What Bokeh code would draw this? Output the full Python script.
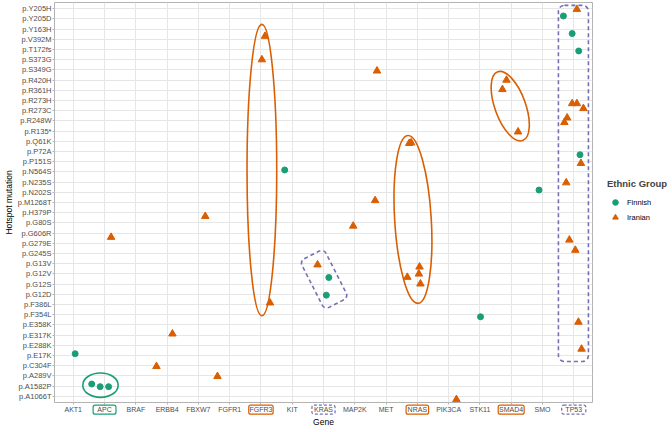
from bokeh.plotting import figure
from bokeh.models import Range1d, FixedTicker, Legend, LegendItem
from bokeh.embed import file_html
from bokeh.resources import INLINE

# ---------------- data ----------------
genes = ["AKT1", "APC", "BRAF", "ERBB4", "FBXW7", "FGFR1", "FGFR3", "KIT", "KRAS",
         "MAP2K", "MET", "NRAS", "PIK3CA", "STK11", "SMAD4", "SMO", "TP53"]

# bottom -> top
mutations = ["p.A1066T", "p.A1582P", "p.A289V", "p.C304F", "p.E17K", "p.E288K", "p.E317K",
             "p.E358K", "p.F354L", "p.F386L", "p.G12D", "p.G12S", "p.G12V", "p.G13V",
             "p.G245S", "p.G279E", "p.G606R", "p.G80S", "p.H379P", "p.M1268T", "p.N202S",
             "p.N235S", "p.N564S", "p.P151S", "p.P72A", "p.Q61K", "p.R135*", "p.R248W",
             "p.R273C", "p.R273H", "p.R361H", "p.R420H", "p.S349G", "p.S373G", "p.T172fs",
             "p.V392M", "p.Y163H", "p.Y205D", "p.Y205H"]

# Finnish samples (jitter offsets)
fin_gene = ["AKT1", "APC", "APC", "APC", "KIT", "KRAS", "KRAS", "STK11", "SMO",
            "TP53", "TP53", "TP53", "TP53"]
fin_mut = ["p.E17K", "p.A1582P", "p.A1582P", "p.A1582P", "p.N564S", "p.G12V", "p.G12D",
           "p.F354L", "p.N202S", "p.Y205D", "p.Y163H", "p.T172fs", "p.P72A"]
fin_dx = [0.06, -0.41, -0.14, 0.13, -0.24, 0.17, 0.09, 0.02, -0.11, -0.33, -0.05, 0.16, 0.20]
fin_dy = [0.18, 0.21, -0.05, -0.05, 0.19, -0.35, -0.08, -0.20, 0.22, 0.28, -0.44, -0.15, -0.32]

# Iranian samples
ira_gene = ["APC", "ERBB4", "ERBB4", "FGFR1", "FBXW7", "FGFR3", "FGFR3", "FGFR3", "KRAS",
            "MAP2K", "MET", "MET", "NRAS", "NRAS", "NRAS", "NRAS", "NRAS", "NRAS",
            "PIK3CA", "SMAD4", "SMAD4", "SMAD4",
            "TP53", "TP53", "TP53", "TP53", "TP53", "TP53", "TP53", "TP53", "TP53",
            "TP53", "TP53", "TP53"]
ira_mut = ["p.G606R", "p.C304F", "p.E317K", "p.A289V", "p.H379P", "p.V392M", "p.S373G",
           "p.F386L", "p.G13V", "p.G80S", "p.S349G", "p.M1268T", "p.Q61K", "p.Q61K",
           "p.G13V", "p.G12V", "p.G12V", "p.G12S", "p.A1066T", "p.R420H", "p.R361H",
           "p.R135*", "p.Y205H", "p.R273H", "p.R273H", "p.R273C", "p.R248W", "p.R248W",
           "p.P151S", "p.N235S", "p.G279E", "p.G245S", "p.E358K", "p.E288K"]
ira_dx = [0.21, -0.34, 0.17, -0.39, 0.22, 0.13, 0.03, 0.29, -0.19, -0.05, -0.29, -0.35,
          -0.26, -0.20, 0.07, 0.05, -0.32, 0.10, 0.25, -0.15, -0.28, 0.22,
          0.10, -0.05, 0.10, 0.31, -0.21, -0.30, 0.23, -0.24, -0.14, 0.05, 0.15, 0.25]
ira_dy = [-0.40, -0.06, 0.13, -0.04, -0.35, 0.30, 0.00, 0.17, -0.10, -0.30, -0.10, 0.20,
          -0.20, -0.14, -0.31, 0.00, -0.32, 0.03, -0.30, 0.00, 0.08, -0.07,
          -0.06, -0.30, -0.30, 0.22, 0.30, -0.15, -0.16, -0.06, 0.33, 0.33, 0.28, -0.36]

# genes whose tick label is boxed
boxed_genes = ["APC", "FGFR3", "KRAS", "NRAS", "SMAD4", "TP53"]

GREEN = "#1B9E77"
ORANGE = "#D95F02"
PURPLE = "#7570B3"
FONT = "Liberation Sans"
box_style = {"APC": (GREEN, "solid", 0.73), "FGFR3": (ORANGE, "solid", 0.78),
             "KRAS": (PURPLE, "3 2", 0.74), "NRAS": (ORANGE, "solid", 0.72),
             "SMAD4": (ORANGE, "solid", 0.83), "TP53": (PURPLE, "3 2", 0.77)}

gx = {g: i + 1 for i, g in enumerate(genes)}
my = {m: i + 1 for i, m in enumerate(mutations)}

fx = [gx[g] + d for g, d in zip(fin_gene, fin_dx)]
fy = [my[m] + d for m, d in zip(fin_mut, fin_dy)]
ix = [gx[g] + d for g, d in zip(ira_gene, ira_dx)]
iy = [my[m] + d for m, d in zip(ira_mut, ira_dy)]

FW, FH = 538, 400
p = figure(frame_width=FW, frame_height=FH, output_backend="svg", toolbar_location=None,
           x_range=Range1d(0.4, len(genes) + 0.6), y_range=Range1d(0.4, len(mutations) + 0.6),
           min_border_top=2, min_border_left=0, min_border_right=0, min_border_bottom=0,
           background_fill_color="white", border_fill_color="white")

# ---------- highlight shapes ----------
p.ellipse(x=1.87, y=2.1, width=1.13, height=2.39, fill_color=None,
          line_color=GREEN, line_width=1.6)
p.ellipse(x=7.03, y=23.18, width=0.95, height=28.6, fill_color=None,
          line_color=ORANGE, line_width=1.6)
p.ellipse(x=11.86, y=18.34, width=1.17, height=16.5, angle=0.06, fill_color=None,
          line_color=ORANGE, line_width=1.6)
p.ellipse(x=14.97, y=29.44, width=0.98, height=7.18, angle=0.35, fill_color=None,
          line_color=ORANGE, line_width=1.6)
p.rect(x=9.02, y=12.48, width=0.86, height=5.35, angle=0.47, border_radius=5,
       fill_color=None, line_color=PURPLE, line_width=1.6, line_dash="4 3")
p.rect(x=16.99, y=21.87, width=0.96, height=34.9, border_radius=6,
       fill_color=None, line_color=PURPLE, line_width=1.6, line_dash="4 3")

r_fin = p.scatter(fx, fy, marker="circle", size=6, fill_color=GREEN, line_color=GREEN)
r_ira = p.scatter(ix, iy, marker="triangle", size=7.5, fill_color=ORANGE, line_color=ORANGE)

# boxes around selected tick labels (overlay level so they may sit below the frame)
for g in boxed_genes:
    c, dash, w = box_style[g]
    p.rect(x=gx[g], y=-0.3, width=w, height=0.88, fill_color=None, line_color=c,
           line_width=1.2, line_dash=dash, border_radius=2, level="overlay")

# ---------- axes ----------
p.xaxis.ticker = FixedTicker(ticks=list(range(1, len(genes) + 1)))
p.xaxis.major_label_overrides = {i + 1: g for i, g in enumerate(genes)}
p.yaxis.ticker = FixedTicker(ticks=list(range(1, len(mutations) + 1)))
p.yaxis.major_label_overrides = {i + 1: m for i, m in enumerate(mutations)}

for ax in (p.xaxis, p.yaxis):
    ax.axis_line_color = None
    ax.major_tick_line_color = "#B3B3B3"
    ax.major_tick_in = 0
    ax.major_tick_out = 2
    ax.minor_tick_line_color = None
    ax.major_label_text_color = "#4D4D4D"
    ax.major_label_text_font = FONT
    ax.major_label_standoff = 1
    ax.axis_label_text_font = FONT
    ax.axis_label_text_font_style = "normal"
    ax.axis_label_text_font_size = "8.5px"
    ax.axis_label_text_color = "black"
    ax.axis_label_standoff = 1
p.xaxis.major_label_text_font_size = "7px"
p.yaxis.major_label_text_font_size = "7.5px"
p.xaxis.axis_label = "Gene"
p.yaxis.axis_label = "Hotspot mutation"

p.xgrid.grid_line_color = "#E6E6E6"
p.ygrid.grid_line_color = "#E6E6E6"
p.outline_line_color = "#B3B3B3"
p.outline_line_width = 1

legend = Legend(items=[LegendItem(label="Finnish", renderers=[r_fin]),
                       LegendItem(label="Iranian", renderers=[r_ira])],
                title="Ethnic Group", location=(15, 178), orientation="vertical")
legend.title_text_font = FONT
legend.title_text_font_size = "9.5px"
legend.title_text_font_style = "bold"
legend.title_standoff = 6
legend.label_text_font = FONT
legend.label_text_font_size = "7.5px"
legend.label_text_color = "black"
legend.glyph_width = 16
legend.glyph_height = 14
legend.label_height = 14
legend.label_width = 30
legend.label_standoff = 4
legend.spacing = 1
legend.padding = 4
legend.margin = 0
legend.border_line_color = None
legend.background_fill_alpha = 0
p.add_layout(legend, "right")

open("out.html", "w").write(file_html(p, INLINE))
